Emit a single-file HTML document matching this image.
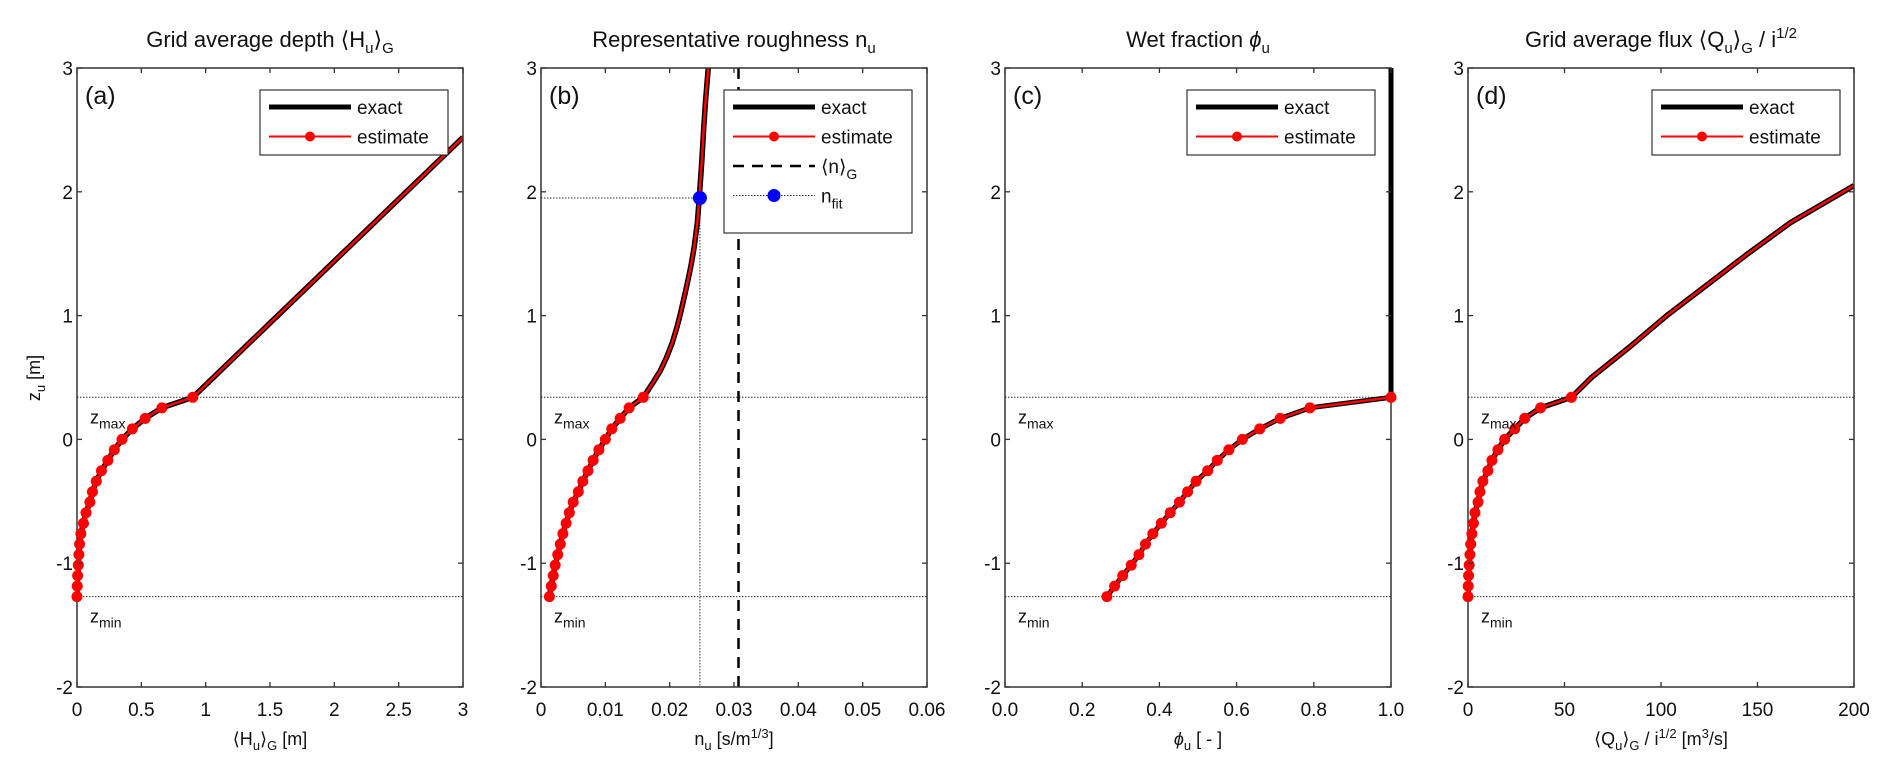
<!DOCTYPE html>
<html><head><meta charset="utf-8"><style>
html,body{margin:0;padding:0;background:#fff;}
svg{display:block;font-family:"Liberation Sans",Arial,sans-serif;}
</style></head><body>
<svg id="fig" width="1892" height="778" viewBox="0 0 1892 778"></svg>
<script>
const zPts=[-1.27,-1.185,-1.10,-1.016,-0.931,-0.846,-0.762,-0.677,-0.592,-0.507,-0.423,-0.338,-0.253,-0.169,-0.084,0.0,0.085,0.17,0.255,0.34];
const hEst=[0,0.002,0.005,0.01,0.015,0.02,0.03,0.05,0.07,0.10,0.12,0.15,0.19,0.24,0.29,0.35,0.43,0.53,0.66,0.9];
const hUpZ=[0.34,2.44];
const hUpV=[0.9,3.0];
const nUpZ=[0.34,0.45,0.55,0.66,0.78,0.9,1.0,1.09,1.18,1.3,1.4,1.55,1.75,1.95,2.25,2.52,2.75,3.0];
const nUpV=[0.0159,0.0173,0.0185,0.0195,0.0204,0.0211,0.0216,0.0220,0.0224,0.0229,0.0233,0.0238,0.0243,0.0246,0.025,0.0253,0.0256,0.026];
const nFitZ=1.95, nFitV=0.0247, nGrid=0.0307;
const phiEst=[0.264,0.284,0.305,0.327,0.347,0.364,0.383,0.405,0.428,0.452,0.473,0.495,0.525,0.55,0.58,0.615,0.66,0.713,0.79,1.0];
const phiUpZ=[0.34,3.0];
const phiUpV=[1.0,1.0];
const qEst=[0,0.1,0.3,0.6,1.0,1.4,2.0,2.8,3.6,5.2,6.2,7.7,10.3,12.4,15.5,19,24.2,29.4,37.6,53.6];
const qUpZ=[0.34,0.5,0.75,1.0,1.25,1.5,1.75,2.05];
const qUpV=[53.6,64,84,103,124,145,167,200];
const bEst=[0.0013,0.0016,0.0019,0.0022,0.0026,0.003,0.0034,0.0039,0.0044,0.005,0.0058,0.0065,0.0073,0.0081,0.009,0.010,0.011,0.0123,0.0137,0.0159];
const zMax=0.34, zMin=-1.27;
const yTicks=[-2,-1,0,1,2,3];

const NS="http://www.w3.org/2000/svg";
const svg=document.getElementById('fig');
function el(tag,attrs,parent){const e=document.createElementNS(NS,tag);for(const k in attrs)e.setAttribute(k,attrs[k]);(parent||svg).appendChild(e);return e;}
const TOP=68,BOT=687,W=386;
function yS(z){return TOP+(3-z)*(BOT-TOP)/5;}

const panels=[
 {id:'a',left:77,xmax:3,xt:[0,0.5,1,1.5,2,2.5,3],xl:['0','0.5','1','1.5','2','2.5','3'],
  title:'Grid average depth ⟨H<tspan font-size="15" dy="6">u</tspan><tspan dy="-6">⟩</tspan><tspan font-size="15" dy="6">G</tspan>',
  xlab:'⟨H<tspan font-size="13" dy="5">u</tspan><tspan dy="-5">⟩</tspan><tspan font-size="13" dy="5">G</tspan><tspan dy="-5"> [m]</tspan>',
  est:hEst,upZ:hUpZ,upV:hUpV},
 {id:'b',left:541,xmax:0.06,xt:[0,0.01,0.02,0.03,0.04,0.05,0.06],xl:['0','0.01','0.02','0.03','0.04','0.05','0.06'],
  title:'Representative roughness n<tspan font-size="15" dy="6">u</tspan>',
  xlab:'n<tspan font-size="13" dy="5">u</tspan><tspan dy="-5"> [s/m</tspan><tspan font-size="13" dy="-7">1/3</tspan><tspan dy="7">]</tspan>',
  est:bEst,upZ:nUpZ,upV:nUpV},
 {id:'c',left:1005,xmax:1,xt:[0,0.2,0.4,0.6,0.8,1.0],xl:['0.0','0.2','0.4','0.6','0.8','1.0'],
  title:'Wet fraction <tspan font-style="italic">ϕ</tspan><tspan font-size="15" dy="6">u</tspan>',
  xlab:'<tspan font-style="italic">ϕ</tspan><tspan font-size="13" dy="5">u</tspan><tspan dy="-5"> [ - ]</tspan>',
  est:phiEst,upZ:phiUpZ,upV:phiUpV},
 {id:'d',left:1468,xmax:200,xt:[0,50,100,150,200],xl:['0','50','100','150','200'],
  title:'Grid average flux ⟨Q<tspan font-size="15" dy="6">u</tspan><tspan dy="-6">⟩</tspan><tspan font-size="15" dy="6">G</tspan><tspan dy="-6"> / i</tspan><tspan font-size="15" dy="-9">1/2</tspan>',
  xlab:'⟨Q<tspan font-size="13" dy="5">u</tspan><tspan dy="-5">⟩</tspan><tspan font-size="13" dy="5">G</tspan><tspan dy="-5"> / i</tspan><tspan font-size="13" dy="-7">1/2</tspan><tspan dy="7"> [m</tspan><tspan font-size="13" dy="-7">3</tspan><tspan dy="7">/s]</tspan>',
  est:qEst,upZ:qUpZ,upV:qUpV}
];

panels.forEach(p=>{
  const L=p.left,R=L+W;
  const xS=v=>L+v/p.xmax*W;
  const g=el('g',{});
  
  
  const t=el('text',{x:L+W/2,y:47,'text-anchor':'middle','font-size':22,fill:'#111'},g);
  t.innerHTML=p.title;
  
  
  const cp=el('clipPath',{id:'clip'+p.id},g);
  el('rect',{x:L,y:TOP,width:W,height:BOT-TOP},cp);
  const plot=el('g',{'clip-path':'url(#clip'+p.id+')'},g);
  [zMax,zMin].forEach((z,i)=>{
    const ln=el('line',{x1:L,x2:R,y1:yS(z),y2:yS(z),stroke:'#333','stroke-width':1,'stroke-dasharray':'1.5,1.5'},plot);
    
    
  });
  if(p.id==='b'){
    const h=el('line',{x1:L,x2:xS(nFitV),y1:yS(nFitZ),y2:yS(nFitZ),stroke:'#333','stroke-width':1,'stroke-dasharray':'1.5,1.5'},plot);
    
    
    const v=el('line',{x1:xS(nFitV),x2:xS(nFitV),y1:yS(nFitZ),y2:BOT,stroke:'#333','stroke-width':1,'stroke-dasharray':'1.5,1.5'},plot);
    
    
    const d=el('line',{x1:xS(nGrid),x2:xS(nGrid),y1:TOP,y2:BOT,stroke:'#000','stroke-width':2.5,'stroke-dasharray':'11,8'},plot);
    
    
  }
  let exPts=p.est.map((v,i)=>[xS(v),yS(zPts[i])]);
  const upPts=p.upZ.map((z,i)=>[xS(p.upV[i]),yS(z)]);
  if(p.id==='c'){
    const ex=el('polyline',{points:exPts.map(q=>q.join(',')).join(' '),fill:'none',stroke:'#000','stroke-width':5,'stroke-linejoin':'round'},plot);
    
    
  } else {
    const all=exPts.concat(upPts.slice(1));
    const ex=el('polyline',{points:all.map(q=>q.join(',')).join(' '),fill:'none',stroke:'#000','stroke-width':5.5,'stroke-linejoin':'round'},plot);
    
    
    const rl=el('polyline',{points:upPts.map(q=>q.join(',')).join(' '),fill:'none',stroke:'#f00','stroke-width':2.5,'stroke-linejoin':'round'},plot);
    
    
  }
  const es=el('polyline',{points:exPts.map(q=>q.join(',')).join(' '),fill:'none',stroke:'#f00','stroke-width':2.5},plot);
  
  
  const box=el('rect',{x:L,y:TOP,width:W,height:BOT-TOP,fill:'none',stroke:'#333','stroke-width':1.5},g);
  
  
  if(p.id==='c'){
    const ex2=el('polyline',{points:upPts.map(q=>q.join(',')).join(' '),fill:'none',stroke:'#000','stroke-width':5},g);
    
    
  }
  exPts.forEach(q=>{
    const c=el('circle',{cx:q[0],cy:q[1],r:5.5,fill:'#f00'},g);
    
    
  });
  if(p.id==='b'){
    const c=el('circle',{cx:xS(nFitV),cy:yS(nFitZ),r:7,fill:'#00f'},g);
    
    
  }
  p.xt.forEach((v,i)=>{
    const x=xS(v);
    el('line',{x1:x,x2:x,y1:BOT,y2:BOT-5,stroke:'#333','stroke-width':1.3},g);
    el('line',{x1:x,x2:x,y1:TOP,y2:TOP+5,stroke:'#333','stroke-width':1.3},g);
    const tl=el('text',{x:x,y:716,'text-anchor':'middle','font-size':19,fill:'#111'},g);
    tl.textContent=p.xl[i];
    
    
  });
  yTicks.forEach(v=>{
    const y=yS(v);
    el('line',{x1:L,x2:L+5,y1:y,y2:y,stroke:'#333','stroke-width':1.3},g);
    el('line',{x1:R,x2:R-5,y1:y,y2:y,stroke:'#333','stroke-width':1.3},g);
    const tl=el('text',{x:L-4,y:y+7,'text-anchor':'end','font-size':19,fill:'#111'},g);
    tl.textContent=String(v);
    
    
  });
  const xl=el('text',{x:L+W/2,y:745,'text-anchor':'middle','font-size':18,fill:'#111'},g);
  xl.innerHTML=p.xlab;
  
  
  const letter=el('text',{x:L+8,y:104,'font-size':25,fill:'#111'},g);
  letter.textContent='('+p.id+')';
  
  
  const zm=el('text',{x:L+13,y:yS(zMax)+26,'font-size':18,fill:'#111'},g);
  zm.innerHTML='z<tspan font-size="14" dy="5">max</tspan>';
  
  
  const zn=el('text',{x:L+13,y:yS(zMin)+26,'font-size':18,fill:'#111'},g);
  zn.innerHTML='z<tspan font-size="14" dy="5">min</tspan>';
  
  
  const lx={a:260,b:724,c:1187,d:1652}[p.id];
  const lw=188;
  const lh=p.id==='b'?143:65;
  const lg=el('g',{},g);
  
  
  el('rect',{x:lx,y:90,width:lw,height:lh,fill:'#fff',stroke:'#333','stroke-width':1.2},lg);
  const ent=[['exact'],['estimate']];
  if(p.id==='b'){ent.push(['grid']);ent.push(['nfit']);}
  ent.forEach((e,i)=>{
    const y=107+i*29.5;
    const x1=lx+9,x2=lx+91;
    const eg=el('g',{},lg);
    
    
    if(e[0]==='exact') el('line',{x1:x1,x2:x2,y1:y,y2:y,stroke:'#000','stroke-width':5},eg);
    if(e[0]==='estimate'){el('line',{x1:x1,x2:x2,y1:y,y2:y,stroke:'#f00','stroke-width':2},eg);el('circle',{cx:(x1+x2)/2,cy:y,r:5,fill:'#f00'},eg);}
    if(e[0]==='grid') el('line',{x1:x1,x2:x2,y1:y,y2:y,stroke:'#000','stroke-width':2.5,'stroke-dasharray':'11,8'},eg);
    if(e[0]==='nfit'){el('line',{x1:x1,x2:x2,y1:y,y2:y,stroke:'#333','stroke-width':1,'stroke-dasharray':'1.5,1.5'},eg);el('circle',{cx:(x1+x2)/2,cy:y,r:6.5,fill:'#00f'},eg);}
    const tx=el('text',{x:lx+97,y:y+7,'font-size':19,fill:'#111'},eg);
    if(e[0]==='exact') tx.textContent='exact';
    if(e[0]==='estimate') tx.textContent='estimate';
    if(e[0]==='grid') tx.innerHTML='⟨n⟩<tspan font-size="14" dy="6">G</tspan>';
    if(e[0]==='nfit') tx.innerHTML='n<tspan font-size="14" dy="6">fit</tspan>';
  });
});
const yl=el('text',{x:0,y:0,'font-size':18,fill:'#111','text-anchor':'middle',transform:'translate(40,378) rotate(-90)'});
yl.innerHTML='z<tspan font-size="13" dy="5">u</tspan><tspan dy="-5"> [m]</tspan>';


</script>
</body></html>
